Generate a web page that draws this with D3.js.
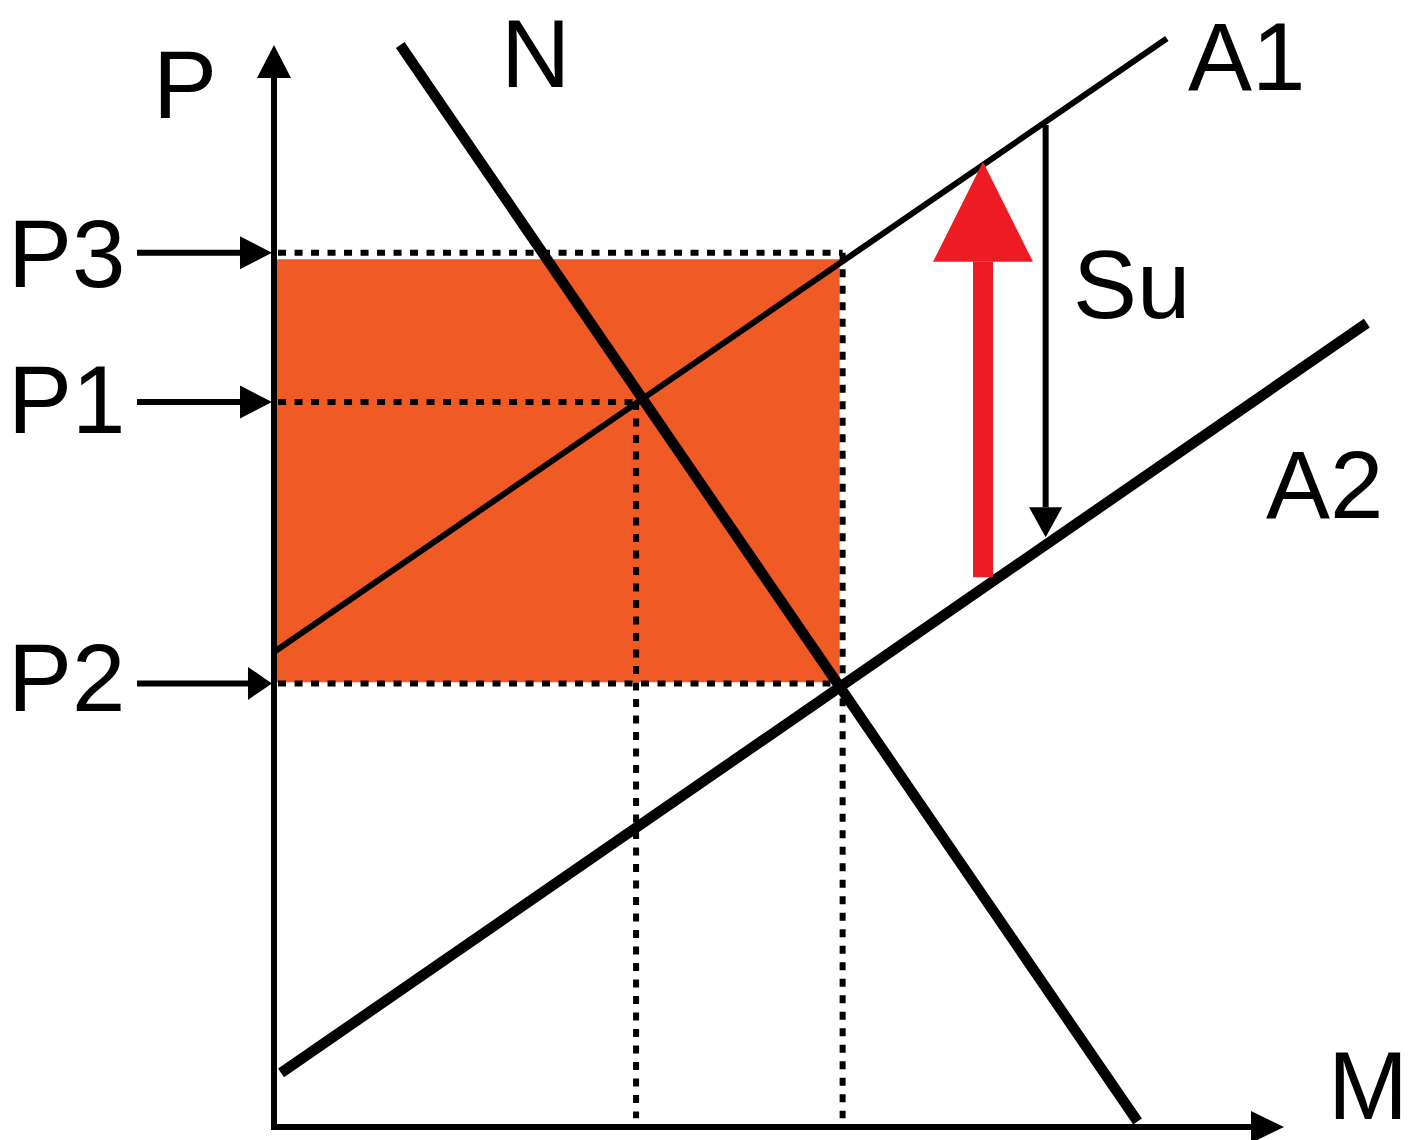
<!DOCTYPE html>
<html>
<head>
<meta charset="utf-8">
<script src="https://cdn.jsdelivr.net/npm/d3@7"></script>
<style>
  html, body { margin: 0; padding: 0; background: #ffffff; }
  svg { display: block; }
  text { font-family: "Liberation Sans", Arial, sans-serif; fill: #000; }
</style>
</head>
<body>
<svg id="chart" width="1419" height="1140"></svg>
<script>
// ---------------- data (abstract quantity / price units) ----------------
const demandN   = [{q: 1.25, p: 10.0}, {q: 8.55, p: 0.05}];
const supplyA1  = [{q: 0.0,  p: 4.39}, {q: 8.84, p: 10.06}];
const supplyA2  = [{q: 0.07, p: 0.50}, {q: 10.82, p: 7.43}];

const priceLabels = ["P3", "P1", "P2"];
const priceValues = [8.08, 6.70, 4.10];
const priceArrowHeads = [32, 32, 24];
// quantity reached at each price level (end of the horizontal guide)
const guideQuantities = [5.63, 3.585, 5.60];
// which guides also drop a vertical line to the quantity axis
const guideDrops = [true, true, false];

const surplusQ = [0.03, 5.60];
const surplusP = [4.11, 8.02];

const shiftArrow = {q: 7.02, from: 5.08, to: 8.92};   // red arrow A2 -> A1
const suArrow    = {q: 7.64, from: 9.26, to: 5.45};   // Su arrow A1 -> A2

const axisMax = {q: 10, p: 10};

// ---------------- scales ----------------
const x = d3.scaleLinear().domain([0, 10]).range([274, 1284]);
const y = d3.scaleLinear().domain([0, 10]).range([1127, 45]);

const svg = d3.select("#chart");
const line = d3.line().x(d => x(d.q)).y(d => y(d.p));

function arrowHead(g, x1, y1, x2, y2, len, half, color) {
  const dx = x2 - x1, dy = y2 - y1, L = Math.hypot(dx, dy);
  const ux = dx / L, uy = dy / L, nx = -uy, ny = ux;
  const bx = x2 - ux * len, by = y2 - uy * len;
  g.append("path")
    .attr("d", `M${x2},${y2}L${bx + nx * half},${by + ny * half}L${bx - nx * half},${by - ny * half}Z`)
    .attr("fill", color);
  return [bx, by];
}
function arrow(g, x1, y1, x2, y2, width, len, half, color) {
  const [bx, by] = arrowHead(g, x1, y1, x2, y2, len, half, color);
  g.append("line").attr("x1", x1).attr("y1", y1).attr("x2", bx).attr("y2", by)
    .attr("stroke", color).attr("stroke-width", width);
}

// ---------------- surplus area ----------------
svg.append("rect")
  .attr("x", x(surplusQ[0])).attr("y", y(surplusP[1]))
  .attr("width", x(surplusQ[1]) - x(surplusQ[0]))
  .attr("height", y(surplusP[0]) - y(surplusP[1]))
  .attr("fill", "#F05A24");

// ---------------- dotted guides ----------------
const guides = svg.append("g")
  .attr("stroke", "#000").attr("stroke-width", 6).attr("stroke-dasharray", "8,8.5").attr("fill", "none");
priceValues.forEach((pv, i) => {
  guides.append("line")
    .attr("x1", x(0.04)).attr("y1", y(pv))
    .attr("x2", x(guideQuantities[i])).attr("y2", y(pv));
  if (guideDrops[i]) {
    guides.append("line")
      .attr("x1", x(guideQuantities[i])).attr("y1", y(pv))
      .attr("x2", x(guideQuantities[i])).attr("y2", y(0.08));
  }
});

// ---------------- curves ----------------
svg.append("path").datum(supplyA1).attr("d", line)
  .attr("stroke", "#000").attr("stroke-width", 6).attr("fill", "none");
svg.append("path").datum(supplyA2).attr("d", line)
  .attr("stroke", "#000").attr("stroke-width", 10.5).attr("fill", "none");
svg.append("path").datum(demandN).attr("d", line)
  .attr("stroke", "#000").attr("stroke-width", 10.5).attr("fill", "none");

// ---------------- axes ----------------
const axes = svg.append("g");
arrow(axes, x(0), y(0) + 3, x(0), y(axisMax.p), 6, 33, 17, "#000");
arrow(axes, x(0) - 3, y(0), x(axisMax.q), y(0), 6, 33, 16, "#000");

// ---------------- price label arrows ----------------
const labelArrows = svg.append("g");
priceValues.forEach((pv, i) => {
  arrow(labelArrows, x(-1.356), y(pv), x(-0.02), y(pv), 6, priceArrowHeads[i], 16.5, "#000");
});

// ---------------- shift arrows ----------------
arrow(svg, x(shiftArrow.q), y(shiftArrow.from), x(shiftArrow.q), y(shiftArrow.to), 20, 100, 50, "#ED1C24");
arrow(svg, x(suArrow.q), y(suArrow.from), x(suArrow.q), y(suArrow.to), 6, 30, 16.5, "#000");

// ---------------- labels ----------------
const fs = 96;
const labels = svg.append("g").attr("font-size", fs);
priceLabels.forEach((t, i) => {
  const base = [287, 433, 711][i];
  labels.append("text").attr("x", 8).attr("y", base).text(t);
});
labels.append("text").attr("x", 153).attr("y", 118).text("P");
labels.append("text").attr("x", 501).attr("y", 87).text("N");
labels.append("text").attr("x", 1188).attr("y", 90).text("A1");
labels.append("text").attr("x", 1073).attr("y", 318).text("Su");
labels.append("text").attr("x", 1266).attr("y", 518).text("A2");
labels.append("text").attr("x", 1328).attr("y", 1119).text("M");
</script>
</body>
</html>
